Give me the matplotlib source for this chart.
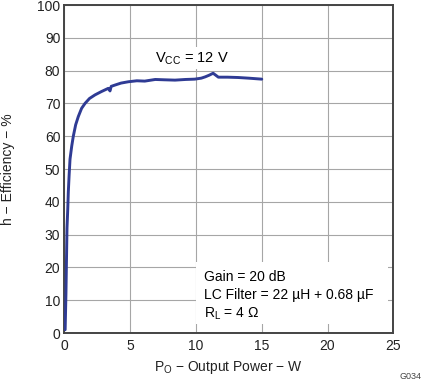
import matplotlib
matplotlib.use("Agg")
import matplotlib.pyplot as plt
from matplotlib.patches import Rectangle

plt.rcParams.update({
    'font.family': ['Liberation Sans', 'DejaVu Sans'],
    'font.size': 10,
})

# efficiency curve (Po in W, efficiency in %)
po_w = [0.05, 0.11, 0.15, 0.19, 0.25, 0.29, 0.35, 0.42, 0.55, 0.67, 0.85, 1.05,
        1.3, 1.56, 1.9, 2.32, 2.8, 3.33, 3.4, 3.46, 3.55, 3.84, 4.3, 4.85, 5.5,
        6.1, 6.9, 7.6, 8.4, 9.2, 9.9, 10.4, 10.7, 11.0, 11.3, 11.5, 11.7, 12.4,
        13.2, 14.0, 15.0]
eff_pct = [1, 12, 22, 32, 38, 43, 48, 53, 57, 60, 63.5, 66,
           68.5, 70, 71.5, 72.6, 73.6, 74.6, 74.2, 73.8, 75.2, 75.6, 76.2, 76.6, 76.9,
           76.8, 77.3, 77.2, 77.1, 77.3, 77.4, 77.7, 78.1, 78.6, 79.2, 78.6, 78.0, 78.0,
           77.9, 77.7, 77.4]

x_ticks = [0, 5, 10, 15, 20, 25]
y_ticks = [0, 10, 20, 30, 40, 50, 60, 70, 80, 90, 100]

fig = plt.figure(figsize=(4.21, 3.83), dpi=100)
ax = fig.add_axes([0.1532, 0.1305, 0.781, 0.8564])

ax.plot(po_w, eff_pct, color='#2f3b94', linewidth=2.1, solid_capstyle='round', zorder=3)

ax.set_xlim(0, 25)
ax.set_ylim(0, 100)
ax.set_xticks(x_ticks)
ax.set_yticks(y_ticks)
ax.grid(True, color='#a6a6a6', linewidth=0.8)
ax.set_axisbelow(True)
ax.tick_params(length=0, colors='#222222')
ax.tick_params(axis='x', pad=4)
ax.tick_params(axis='y', pad=3)
for s in ax.spines.values():
    s.set_color('#444444')
    s.set_linewidth(1.4)

ax.set_xlabel(r'P$_\mathregular{O}$ − Output Power − W', color='#222222')
ax.set_ylabel('h − Efficiency − %', color='#222222')
ax.xaxis.set_label_coords(0.5, -0.079)
ax.yaxis.set_label_coords(-0.152, 0.5)

# white panel behind the conditions text (hides the grid there)
ax.add_patch(Rectangle((9.97, 2.7), 14.6, 18.9, facecolor='white', edgecolor='none', zorder=2))

ax.text(9.7, 83.8, r'V$_\mathregular{CC}$ = 12 V', ha='center', va='center', zorder=4,
        fontsize=10.5, bbox=dict(facecolor='white', edgecolor='none', pad=2))
ax.text(10.6, 11.3, 'Gain = 20 dB\nLC Filter = 22 µH + 0.68 µF\n' + r'R$_\mathregular{L}$ = 4 Ω',
        ha='left', va='center', linespacing=1.32, zorder=4)

fig.text(0.975, 0.004, 'G034', fontsize=6.5, color='#444444', ha='center', va='bottom')

fig.savefig('out.png', dpi=100)
